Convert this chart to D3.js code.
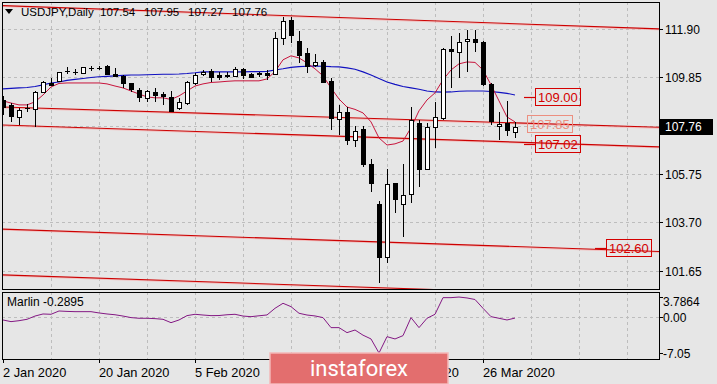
<!DOCTYPE html>
<html>
<head>
<meta charset="utf-8">
<script src="https://cdn.jsdelivr.net/npm/d3@7"></script>
<style>
body { margin: 0; background: #e6e6e6; }
svg { display: block; font-family: "Liberation Sans", Arial, sans-serif; }
</style>
</head>
<body>
<svg id="chart" width="717" height="384"></svg>
<script>
// USDJPY daily candles, 2 Jan 2020 .. 1 Apr 2020
var opens = [108.90,108.67,108.16,108.57,108.51,109.22,109.60,109.70,110.12,110.09,
  110.02,110.24,110.26,110.33,109.98,109.92,109.60,109.32,108.96,109.24,
  109.14,109.03,108.54,108.78,109.60,109.98,110.13,109.95,109.94,109.91,
  110.19,110.00,110.02,110.02,109.99,111.51,112.28,111.40,110.90,110.35,
  110.51,109.71,108.08,108.40,107.20,107.65,106.18,104.48,102.25,105.36,
  104.48,104.90,107.93,105.96,107.73,108.12,111.04,110.94,111.39,111.48,
  111.36,109.57,107.79,107.90,107.54];
var highs = [109.05,108.75,108.54,108.71,109.27,109.70,109.81,110.09,110.30,110.19,
  110.30,110.34,110.34,110.37,110.23,109.95,109.62,109.39,109.32,109.39,
  109.24,109.29,108.96,109.71,110.02,110.16,110.19,110.09,110.09,110.28,
  110.23,110.02,110.09,110.16,111.79,112.42,112.40,111.83,111.08,110.84,
  110.59,109.81,108.68,108.61,107.79,107.79,106.38,104.62,105.96,105.39,
  106.17,108.61,108.02,107.93,108.82,111.11,111.62,111.72,111.86,111.86,
  111.39,109.60,108.40,108.85,107.95];
var lows = [108.25,107.97,107.83,108.37,107.76,109.18,109.50,109.67,109.99,109.95,
  109.99,110.13,110.16,109.95,109.88,109.39,109.24,108.82,108.82,108.82,
  108.68,108.40,108.47,108.68,109.53,109.91,109.67,109.74,109.82,109.85,
  109.77,109.81,109.88,109.74,109.95,111.22,111.29,110.45,110.02,110.28,
  109.63,107.62,107.41,106.98,106.91,106.07,105.01,101.12,102.00,104.09,
  103.10,104.54,105.19,105.93,106.85,108.04,109.41,109.84,110.09,110.91,
  109.46,107.83,107.20,107.38,107.27];
var closes = [108.58,108.21,108.47,108.55,109.22,109.67,109.53,110.07,110.10,110.07,
  110.28,110.23,110.25,109.99,109.92,109.60,109.34,109.01,109.27,109.10,
  109.07,108.44,108.82,109.67,109.95,110.09,109.85,109.88,109.91,110.19,
  109.95,109.88,110.01,109.95,111.51,112.24,111.65,110.80,110.33,110.51,
  109.67,108.12,108.40,107.20,107.59,106.18,105.36,102.25,105.33,104.68,
  104.86,108.04,105.96,107.73,108.16,111.05,110.98,111.36,111.48,111.34,
  109.56,108.00,107.87,107.62,107.76];

// fast MA (crimson) and slow MA (blue)
var fastMA = [108.85,108.76,108.68,108.68,108.81,109.10,109.44,109.59,109.61,109.61,
  109.61,109.61,109.61,109.57,109.48,109.40,109.27,109.14,109.02,108.98,
  108.98,108.91,109.06,109.27,109.48,109.57,109.63,109.65,109.68,109.70,
  109.70,109.70,109.70,109.78,110.09,110.59,110.76,110.67,110.46,110.21,
  109.91,109.40,108.93,108.59,108.49,108.34,107.96,107.28,106.98,107.03,
  107.15,107.71,108.43,108.89,109.19,109.74,110.16,110.42,110.50,110.48,
  110.16,109.53,108.85,108.17,107.96];
var slowMA = [109.36,109.38,109.40,109.42,109.46,109.53,109.61,109.65,109.72,109.76,
  109.80,109.84,109.87,109.89,109.91,109.93,109.95,109.95,109.96,109.97,
  109.98,109.98,109.99,110.01,110.04,110.08,110.08,110.08,110.08,110.08,
  110.08,110.09,110.09,110.10,110.16,110.21,110.27,110.30,110.32,110.33,
  110.32,110.30,110.29,110.25,110.19,110.08,109.95,109.80,109.65,109.55,
  109.46,109.40,109.34,109.27,109.23,109.22,109.23,109.26,109.27,109.27,
  109.27,109.25,109.21,109.17,109.10];

// Marlin oscillator (lower window)
var marlin = [-0.66,-0.98,-0.80,-0.53,0.10,0.50,0.44,1.08,1.00,0.95,
  0.95,0.95,0.70,0.50,0.35,0.10,-0.20,-0.33,-0.33,-0.40,
  -0.53,-1.18,-0.66,0.18,0.44,0.30,0.18,0.20,0.35,0.44,
  0.10,-0.02,0.15,0.31,1.60,2.57,1.92,0.64,0.30,0.12,
  -0.20,-2.14,-2.14,-3.11,-2.60,-3.60,-4.33,-7.05,-3.89,-4.33,
  -3.69,-0.20,-2.14,-0.33,0.44,3.66,3.66,3.78,3.60,3.30,
  1.60,-0.02,-0.33,-0.66,-0.29];

// trend lines: [bar0, price0, bar1, price1]
var trendLines = [
  [-1, 112.90, 83, 111.89],
  [-1, 108.60, 83, 107.72],
  [-1, 107.84, 83, 106.89],
  [-1, 103.43, 83, 102.46],
  [-1, 101.49, 83, 100.52]
];

// price label objects
var labelPrices = [109.00, 107.85, 107.02, 102.60];
var labelBars = [66.5, 65.5, 66.5, 75.4];
var labelFaded = [false, true, false, false];

var priceTicks = [111.90, 109.85, 107.80, 105.75, 103.70, 101.65];
var priceTickLabels = ["111.90", "109.85", "", "105.75", "103.70", "101.65"];
var marlinTicks = [3.7864, 0, -7.05];
var marlinTickLabels = ["3.7864", "0.00", "-7.05"];
var dateBars = [0, 12, 24, 36, 48, 60];
var dateLabels = ["2 Jan 2020", "20 Jan 2020", "5 Feb 2020", "21 Feb 2020", "10 Mar 2020", "26 Mar 2020"];

var symbol = "USDJPY,Daily";
var lastBar = ["107.54", "107.95", "107.27", "107.76"];
var marlinName = "Marlin -0.2895";

var svg = d3.select("#chart");
var W = 717, H = 384;
// main window box (note: can't call it "top", that's window.top)
var mL = 2, mR = 659, mT = 2, mB = 289;
var lT = 292, lB = 359;   // lower window

svg.append("rect").attr("width", W).attr("height", H).attr("fill", "#e6e6e6");

var x = d3.scaleLinear().domain([0, 64]).range([3, 515]);
var y = d3.scaleLinear().domain([100.88, 113.04]).range([mB, mT]);
var ym = d3.scaleLinear().domain([-7.05, 3.7864]).range([353, 297]);

var defs = svg.append("defs");
defs.append("clipPath").attr("id", "clipMain").append("rect")
  .attr("x", mL + 1).attr("y", mT + 1).attr("width", mR - mL - 1).attr("height", mB - mT - 1);
defs.append("clipPath").attr("id", "clipLow").append("rect")
  .attr("x", mL + 1).attr("y", lT + 1).attr("width", mR - mL - 1).attr("height", lB - lT - 1);

var main = svg.append("g").attr("clip-path", "url(#clipMain)");
var low = svg.append("g").attr("clip-path", "url(#clipLow)");

// grid - every 6 bars vertically
var gridBars = d3.range(6, 82, 6);
var gridColor = "#bdbdbd";
main.selectAll("line.vgrid").data(gridBars).enter().append("line")
  .attr("x1", function(d) { return Math.round(x(d)) + 0.5; })
  .attr("x2", function(d) { return Math.round(x(d)) + 0.5; })
  .attr("y1", mT).attr("y2", mB)
  .attr("stroke", gridColor).attr("stroke-dasharray", "3,3");
main.selectAll("line.hgrid").data(priceTicks).enter().append("line")
  .attr("x1", mL).attr("x2", mR)
  .attr("y1", function(d) { return Math.round(y(d)) + 0.5; })
  .attr("y2", function(d) { return Math.round(y(d)) + 0.5; })
  .attr("stroke", gridColor).attr("stroke-dasharray", "3,3");

low.selectAll("line.vgrid").data(gridBars).enter().append("line")
  .attr("x1", function(d) { return Math.round(x(d)) + 0.5; })
  .attr("x2", function(d) { return Math.round(x(d)) + 0.5; })
  .attr("y1", lT).attr("y2", lB)
  .attr("stroke", gridColor).attr("stroke-dasharray", "3,3");
low.append("line")
  .attr("x1", mL).attr("x2", mR)
  .attr("y1", Math.round(ym(0)) + 0.5).attr("y2", Math.round(ym(0)) + 0.5)
  .attr("stroke", gridColor).attr("stroke-dasharray", "3,3");

// trend lines, faint pink shadow under a thin red line
trendLines.forEach(function(t) {
  main.append("line")
    .attr("x1", x(t[0])).attr("y1", y(t[1]) + 1)
    .attr("x2", x(t[2])).attr("y2", y(t[3]) + 1)
    .attr("stroke", "#f3bcbc").attr("stroke-width", 1);
  main.append("line")
    .attr("x1", x(t[0])).attr("y1", y(t[1]))
    .attr("x2", x(t[2])).attr("y2", y(t[3]))
    .attr("stroke", "#cc0000").attr("stroke-width", 1.1);
});

// moving averages
var idx = d3.range(opens.length);
var slowLine = d3.line().x(function(i) { return x(i); }).y(function(i) { return y(slowMA[i]); });
var fastLine = d3.line().x(function(i) { return x(i); }).y(function(i) { return y(fastMA[i]); });
main.append("path").attr("d", slowLine(idx)).attr("fill", "none")
  .attr("stroke", "#1010c0").attr("stroke-width", 1.1);
main.append("path").attr("d", fastLine(idx)).attr("fill", "none")
  .attr("stroke", "#c8143c").attr("stroke-width", 1);

// candles
var cg = main.append("g");
idx.forEach(function(i) {
  var cx = Math.round(x(i));
  var o = opens[i], c = closes[i];
  cg.append("line")
    .attr("x1", cx + 0.5).attr("x2", cx + 0.5)
    .attr("y1", Math.round(y(highs[i]))).attr("y2", Math.round(y(lows[i])))
    .attr("stroke", "#000");
  var yTop = Math.round(y(Math.max(o, c))), yBot = Math.round(y(Math.min(o, c)));
  if (yBot - yTop < 1) {
    cg.append("line")
      .attr("x1", cx - 2).attr("x2", cx + 3)
      .attr("y1", yTop + 0.5).attr("y2", yTop + 0.5)
      .attr("stroke", "#000");
  } else {
    cg.append("rect")
      .attr("x", cx - 1.5).attr("y", yTop + 0.5)
      .attr("width", 4).attr("height", yBot - yTop)
      .attr("fill", c >= o ? "#fff" : "#000")
      .attr("stroke", "#000");
  }
});

// price label objects
labelPrices.forEach(function(p, k) {
  var lx = Math.round(x(labelBars[k]));
  var ly = Math.round(y(p));
  var col = labelFaded[k] ? "#ec8f80" : "#d40000";
  if (!labelFaded[k]) {
    main.append("line").attr("x1", lx - 11).attr("x2", lx)
      .attr("y1", ly + 0.5).attr("y2", ly + 0.5).attr("stroke", col).attr("stroke-width", 1.2);
  }
  var t = main.append("text").text(p.toFixed(2))
    .attr("x", lx + 3).attr("y", ly + 5)
    .attr("font-size", 13).attr("fill", col);
  var bb = t.node().getBBox();
  main.insert("rect", "text")
    .attr("x", lx + 0.5).attr("y", ly - 8.5)
    .attr("width", Math.round(bb.width) + 5).attr("height", 17)
    .attr("fill", "none").attr("stroke", col);
});

// window borders
svg.append("rect").attr("x", mL + 0.5).attr("y", mT + 0.5)
  .attr("width", mR - mL).attr("height", mB - mT)
  .attr("fill", "none").attr("stroke", "#000");
svg.append("rect").attr("x", mL + 0.5).attr("y", lT + 0.5)
  .attr("width", mR - mL).attr("height", lB - lT)
  .attr("fill", "none").attr("stroke", "#000");

// right price scale
var ax = svg.append("g");
priceTicks.forEach(function(p, k) {
  var py = Math.round(y(p)) + 0.5;
  ax.append("line").attr("x1", mR).attr("x2", mR + 4)
    .attr("y1", py).attr("y2", py).attr("stroke", "#000");
  if (priceTickLabels[k]) {
    ax.append("text").text(priceTickLabels[k])
      .attr("x", mR + 6).attr("y", py + 4)
      .attr("font-size", 12).attr("fill", "#000");
  }
});
// current price box
var cy = Math.round(y(+lastBar[3]));
ax.append("rect").attr("x", mR + 1).attr("y", cy - 8)
  .attr("width", 53).attr("height", 16).attr("fill", "#000");
ax.append("text").text(lastBar[3])
  .attr("x", mR + 6).attr("y", cy + 4)
  .attr("font-size", 12).attr("fill", "#fff");

marlinTicks.forEach(function(m, k) {
  var my = Math.round(ym(m)) + 0.5;
  ax.append("line").attr("x1", mR).attr("x2", mR + 4)
    .attr("y1", my).attr("y2", my).attr("stroke", "#000");
  ax.append("text").text(marlinTickLabels[k])
    .attr("x", mR + 4).attr("y", my + (k == 0 ? 8 : 4))
    .attr("font-size", 12).attr("fill", "#000");
});

// header - symbol then O H L C, each in its own slot like the terminal does
svg.append("path").attr("d", "M5,9 L13,9 L9,14 Z").attr("fill", "#000");
svg.append("text").attr("x", 21).attr("y", 16).attr("font-size", 11.5).attr("fill", "#000")
  .text(symbol);
lastBar.forEach(function(v, k) {
  svg.append("text").attr("x", 100 + k * 44).attr("y", 16)
    .attr("font-size", 11.5).attr("fill", "#000").text(v);
});

// lower window: Marlin
var mLine = d3.line().x(function(i) { return x(i); }).y(function(i) { return ym(marlin[i]); });
low.append("path").attr("d", mLine(idx)).attr("fill", "none")
  .attr("stroke", "#841984").attr("stroke-width", 1);
svg.append("text").attr("x", 7).attr("y", 306).attr("font-size", 12).attr("fill", "#000")
  .text(marlinName);

// time scale
dateBars.forEach(function(b, k) {
  var dx = Math.round(x(b)) + 0.5;
  svg.append("line").attr("x1", dx).attr("x2", dx)
    .attr("y1", lB).attr("y2", lB + 4).attr("stroke", "#000");
  svg.append("text").text(dateLabels[k])
    .attr("x", dx - 0.5).attr("y", 377)
    .attr("font-size", 12.8).attr("fill", "#000");
});

// watermark
svg.append("rect").attr("x", 270).attr("y", 353).attr("width", 178).attr("height", 31)
  .attr("fill", "#e36e6e").attr("stroke", "#f3b8b8").attr("stroke-width", 1.5);
svg.append("text").text("instaforex")
  .attr("x", 359).attr("y", 376).attr("text-anchor", "middle")
  .attr("font-family", "Roboto, 'Open Sans', sans-serif")
  .attr("font-size", 22).attr("fill", "#fff");
</script>
</body>
</html>
